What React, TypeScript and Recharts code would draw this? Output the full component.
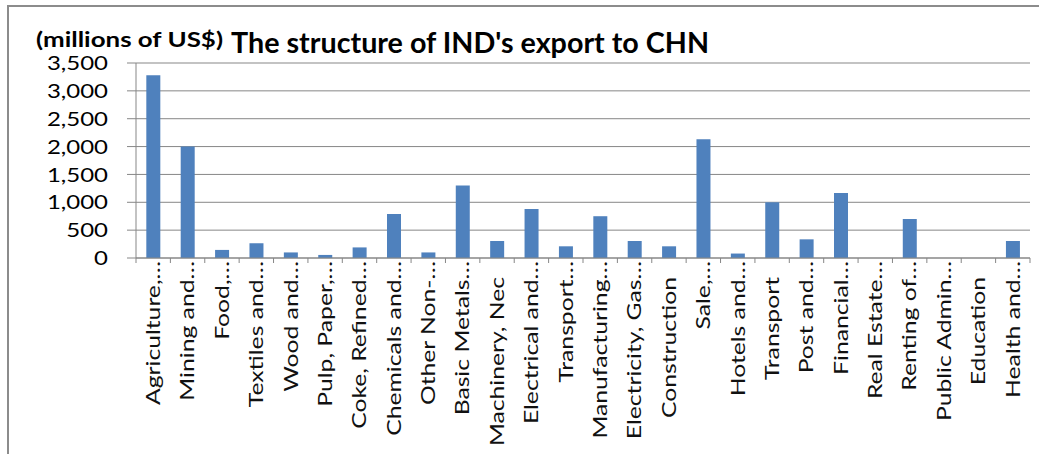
import { BarChart, Bar, XAxis, YAxis, CartesianGrid } from 'recharts';

// sector labels as they show under the axis (Excel cut the long ones)
const SECTORS = [
  'Agriculture,…', 'Mining and…', 'Food,…', 'Textiles and…', 'Wood and…',
  'Pulp, Paper,…', 'Coke, Refined…', 'Chemicals and…', 'Other Non-…', 'Basic Metals…',
  'Machinery, Nec', 'Electrical and…', 'Transport…', 'Manufacturing…', 'Electricity, Gas…',
  'Construction', 'Sale,…', 'Hotels and…', 'Transport', 'Post and…',
  'Financial…', 'Real Estate…', 'Renting of…', 'Public Admin…', 'Education',
  'Health and…',
];

// millions of US$
const EXPORTS = [
  3280, 2000, 145, 265, 100,
  55, 190, 790, 100, 1300,
  305, 880, 210, 750, 305,
  210, 2130, 80, 1000, 335,
  1165, 0, 700, 0, 0,
  305,
];

const Y_TICKS = [0, 500, 1000, 1500, 2000, 2500, 3000, 3500];

const W = 1039;
const H = 454;
const PLOT_LEFT = 136;
const PLOT_RIGHT = 9;
const STEP = (W - PLOT_LEFT - PLOT_RIGHT) / SECTORS.length;
const GRAY = '#878787';
const FONT = 'Lato, "Open Sans", sans-serif';

const data = SECTORS.map((name, i) => ({ name, value: EXPORTS[i] }));

const YTick = ({ x, y, payload }: any) => (
  <g transform={`translate(${x},${y}) scale(1.2,1)`}>
    <text x={0} y={0} dy="0.36em" textAnchor="end" fill="#000" fontFamily={FONT} fontSize={20}>
      {Number(payload.value).toLocaleString('en-US')}
    </text>
  </g>
);

const XTick = ({ x, y, payload, index }: any) => {
  const label: string = payload.value;
  const cut = label.endsWith('…');
  const off = cut ? 3 : 19;
  const last = index === SECTORS.length - 1;
  return (
    <g>
      <line x1={x - STEP / 2} x2={x - STEP / 2} y1={y} y2={y + 5} stroke={GRAY} />
      {last && <line x1={x + STEP / 2} x2={x + STEP / 2} y1={y} y2={y + 5} stroke={GRAY} />}
      <g transform={`translate(${x},${y + off}) rotate(-90) scale(1.3,1)`}>
        <text x={0} y={0} dy="0.36em" textAnchor="end" fill="#111" fontFamily={FONT} fontSize={19}>
          {label}
        </text>
      </g>
    </g>
  );
};

export default function App() {
  return (
    <div style={{ position: 'absolute', left: 0, top: 0, width: W, height: H, background: '#fff' }}>
      <svg width={W} height={H} style={{ position: 'absolute', left: 0, top: 0 }}>
        <rect x={7} y={5} width={W - 7} height={2} fill="#8c8c8c" />
        <rect x={7} y={5} width={2} height={H - 5} fill="#8c8c8c" />
        <text x={36} y={47} fontFamily={FONT} fontWeight={700} fontSize={21} textLength={187} lengthAdjust="spacingAndGlyphs" fill="#000">
          (millions of US$)
        </text>
        <text x={231} y={53} fontFamily={FONT} fontWeight={700} fontSize={28} textLength={478} lengthAdjust="spacingAndGlyphs" fill="#000">
          The structure of IND's export to CHN
        </text>
      </svg>
      <div style={{ position: 'absolute', left: 0, top: 0 }}>
        <BarChart
          width={W}
          height={H}
          data={data}
          margin={{ top: 63, right: PLOT_RIGHT, bottom: 0, left: 0 }}
          barCategoryGap="30%"
        >
          <CartesianGrid vertical={false} stroke={GRAY} />
          <XAxis
            dataKey="name"
            interval={0}
            height={196}
            tickSize={0}
            tickMargin={0}
            tickLine={false}
            axisLine={{ stroke: GRAY }}
            tick={<XTick />}
          />
          <YAxis
            width={PLOT_LEFT}
            domain={[0, 3500]}
            ticks={Y_TICKS}
            tickSize={9}
            tickMargin={19}
            tickLine={{ stroke: GRAY }}
            axisLine={{ stroke: GRAY }}
            tick={<YTick />}
          />
          <Bar dataKey="value" fill="#4F81BD" isAnimationActive={false} />
        </BarChart>
      </div>
    </div>
  );
}
